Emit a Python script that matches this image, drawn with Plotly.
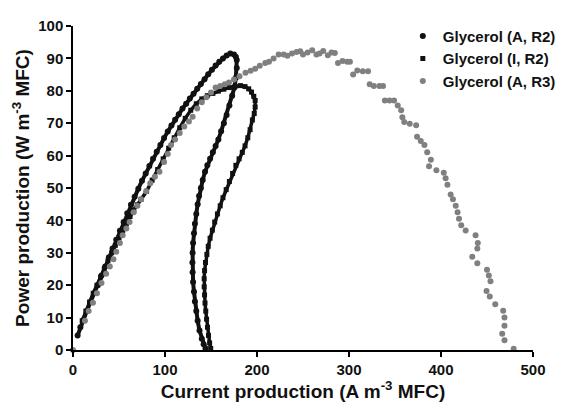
import plotly.graph_objects as go

# Glycerol (A, R2) - black circles
a_r2_x = [5, 8, 11, 15, 19, 23, 27, 31, 35, 39, 43, 47, 51, 55, 59, 63, 67, 71, 75, 79,
          83, 87, 91, 95, 99, 103, 107, 111, 115, 119, 123, 127, 131, 135, 139, 143, 147,
          151, 155, 159, 163, 167, 171, 175, 177,
          178, 178, 177, 175.5, 173, 170, 167, 164, 161, 158, 155, 152, 149, 146, 143.5,
          141, 139, 137, 135.5, 134, 132.5, 131.5, 130.5, 130, 129.8, 130, 130.5, 131.5,
          132.5, 134, 135.5, 137.5, 140, 142, 144]
a_r2_y = [4.5, 7, 9.2, 12, 14.8, 17.5, 20, 23, 25.8, 28.6, 31.3, 34, 36.8, 39.5, 42.2,
          44.8, 47.3, 49.8, 52.2, 54.5, 56.8, 59, 61.2, 63.3, 65.4, 67.4, 69.3, 71.1, 72.8,
          74.5, 76, 77.6, 79.1, 80.6, 82.1, 83.6, 85.1, 86.5, 87.8, 89, 90, 90.9, 91.5,
          91.2, 90.5,
          89.5, 87, 84, 81, 78.5, 75.5, 72.5, 70, 67.5, 65, 63, 61, 59, 57, 55,
          52.5, 50, 47.5, 45, 42, 39, 36, 33, 30, 27, 24, 21, 18,
          15, 12, 9, 6, 3.5, 1.8, 0.5]

# Glycerol (I, R2) - black squares
i_r2_x = [10, 14, 18, 22, 26, 30, 34, 38, 42, 46, 50, 54, 58, 62, 66, 70, 74, 80, 86, 92,
          98, 104, 110, 116, 122, 128, 134, 140, 146, 152, 158, 164, 170, 176, 182, 187,
          191, 194, 196.5, 198, 198, 197, 195, 192.5, 190, 187, 184, 180.5, 177, 173.5,
          170, 166.5, 163, 160, 157, 154, 151.5, 149, 147, 145.5, 144, 143, 142.6, 142.6,
          143, 143.5, 144.3, 145.2, 146.2, 147.3, 148.5, 149.7]
i_r2_y = [9, 12, 14.8, 17.5, 20, 22.5, 25, 27.5, 30, 32.3, 34.6, 36.8, 39, 41.2, 43.2,
          44.8, 46.5, 49, 52.4, 55.7, 59, 62.3, 65.5, 68.6, 71.5, 74, 76, 77.5, 78.5, 79.2,
          79.9, 80.5, 81, 81.4, 81.6, 81.3, 80.6, 79.6, 78.3, 77, 75, 73, 71, 68, 65.5, 63,
          61, 59, 57, 54.5, 52, 49.5, 47, 44.5, 42, 39.5, 37, 34.5, 32, 29.5, 27, 24.5, 22,
          19.5, 17, 14.5, 12, 9.5, 7, 4.5, 2.2, 0.5]

# Glycerol (A, R3) - gray circles
a_r3_x = [0, 13, 17, 21.7, 26, 31, 36, 40, 44, 47, 51, 54, 58, 61.5, 66, 70, 74, 79.5, 84,
          89, 94, 99, 103, 106.6, 111, 116, 121, 126, 130, 135, 140, 145, 150, 155, 160,
          165, 169.5, 175, 181, 187.5, 193, 198, 203, 209, 213, 218, 223.5, 229, 233, 238,
          243, 247, 250, 255, 260, 264.6, 268, 272, 277, 281, 284.6, 288, 293, 298, 301,
          304.5, 309, 315, 320.7, 322.5, 327, 333, 337, 339, 344, 349, 353, 356.7, 358,
          360, 366, 373, 374, 378, 382, 385, 389, 387, 395, 403, 405, 407, 410.5, 413, 416,
          418, 419.6, 422, 426.8, 437.6, 440, 439.5, 434, 439.5, 450, 452, 453.8, 449.5,
          453, 459, 467.6, 469, 469, 466.5, 469, 479]
a_r3_y = [0, 9, 12, 14.6, 17.5, 20.7, 23.5, 25.8, 28, 30.3, 33, 35.4, 37.5, 39.5, 42.5,
          44.5, 46.5, 49, 51.5, 53.5, 55, 58, 60.5, 63.3, 65, 67, 69, 70.5, 72, 74.5, 76.5,
          78, 79.5, 81, 81.5, 82, 82.6, 83.5, 84.5, 85.6, 86.2, 86.8, 87.7, 88.6, 89, 90,
          91.2, 91.2, 90.8, 91.5, 92, 92.2, 91.2, 91.8, 92.5, 91.2, 91.5, 92.3, 91, 91.8,
          91.7, 88.6, 89.2, 89, 89, 85, 86.3, 86, 86, 82, 81.5, 81.5, 81.5, 77, 77, 77,
          75.5, 74, 71.8, 70.4, 69.8, 69.4, 65.8, 64.5, 63.3, 61, 58.7, 56.7, 55.5, 54.7,
          53, 51, 48, 46.5, 44.5, 42.5, 40.5, 38.5, 36.9, 35.4, 33, 31.3, 28.8, 26.8, 24.8,
          23, 21.2, 18.2, 16.5, 14.1, 12.1, 10, 7.5, 5, 3, 0.4]

x_ticks = [0, 100, 200, 300, 400, 500]
y_ticks = [0, 10, 20, 30, 40, 50, 60, 70, 80, 90, 100]

FONT = "Liberation Sans, Arial, Helvetica, sans-serif"
BLACK = "#111111"
GRAY = "#808080"

fig = go.Figure()
# continuous bands under the dense black series
fig.add_trace(go.Scatter(x=a_r2_x, y=a_r2_y, mode="lines", showlegend=False,
                         line=dict(color=BLACK, width=4), hoverinfo="skip",
                         cliponaxis=False))
fig.add_trace(go.Scatter(x=i_r2_x, y=i_r2_y, mode="lines", showlegend=False,
                         line=dict(color=BLACK, width=3.5), hoverinfo="skip",
                         cliponaxis=False))
fig.add_trace(go.Scatter(x=a_r2_x, y=a_r2_y, mode="markers", name="Glycerol (A, R2)",
                         marker=dict(symbol="circle", size=6, color=BLACK),
                         cliponaxis=False))
fig.add_trace(go.Scatter(x=i_r2_x, y=i_r2_y, mode="markers", name="Glycerol (I, R2)",
                         marker=dict(symbol="square", size=5, color=BLACK),
                         cliponaxis=False))
fig.add_trace(go.Scatter(x=a_r3_x, y=a_r3_y, mode="markers", name="Glycerol (A, R3)",
                         marker=dict(symbol="circle", size=6, color=GRAY),
                         cliponaxis=False))

axis_common = dict(showgrid=False, zeroline=False, showline=True, linecolor="black",
                   linewidth=1.5, ticks="outside", ticklen=5, tickwidth=1.5,
                   tickcolor="black", automargin=False,
                   tickfont=dict(family=FONT, size=15, color=BLACK, weight="bold"))

# page body adds an 8px offset: the figure is shifted, its right strip falls off-screen
fig.update_layout(
    width=565, height=397,
    margin=dict(l=65, r=37, t=13, b=55),
    paper_bgcolor="white", plot_bgcolor="white",
    font=dict(family=FONT, color=BLACK),
    xaxis=dict(range=[0, 500], tickvals=x_ticks,
               title=dict(text="Current production (A m<sup>-3</sup> MFC)",
                          font=dict(family=FONT, size=19, weight="bold"), standoff=3),
               **axis_common),
    yaxis=dict(range=[0, 100], tickvals=y_ticks,
               title=dict(text="Power production (W m<sup>-3</sup> MFC)",
                          font=dict(family=FONT, size=19, weight="bold"), standoff=4),
               **axis_common),
    legend=dict(x=0.717, y=1.019, xanchor="left", yanchor="top",
                font=dict(family=FONT, size=15, color=BLACK, weight="bold"),
                bgcolor="rgba(0,0,0,0)", itemwidth=30),
)

fig.write_html("out.html")
